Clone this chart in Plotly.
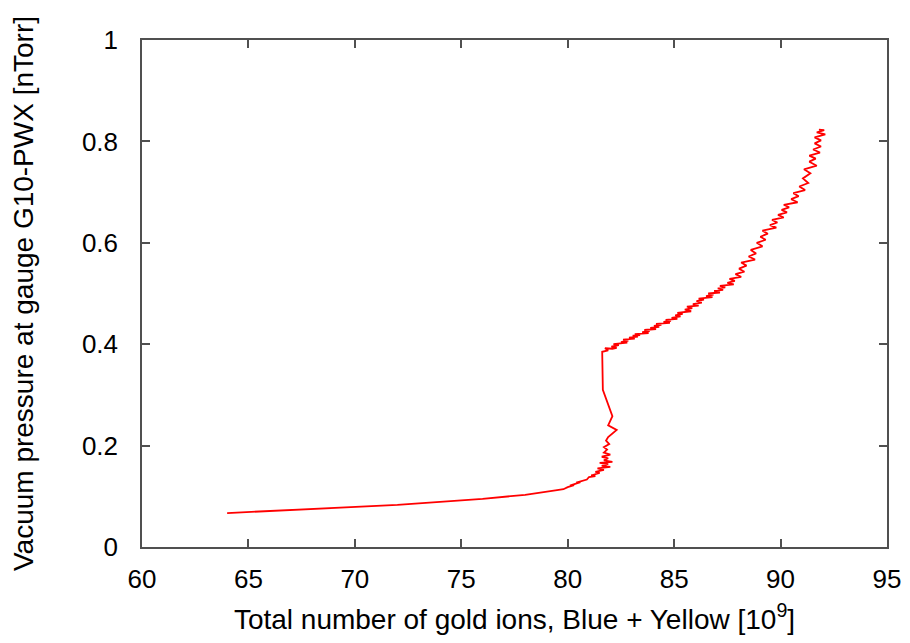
import plotly.graph_objects as go

# Smooth low-pressure part
x_low = [64.0, 66.0, 68.0, 70.0, 72.0, 74.0, 76.0, 78.0, 79.0, 79.5]
y_low = [0.067, 0.071, 0.075, 0.079, 0.083, 0.089, 0.095, 0.103, 0.108, 0.112]

# Noisy part before the jump and the jump itself
x_mid = [79.8, 80.0, 80.3, 80.1, 80.6, 80.4, 80.9, 81.0, 81.3, 81.1, 81.5, 81.3, 81.7, 81.4,
         82.0, 81.6, 81.9, 81.5, 82.1, 81.7, 81.9, 81.6, 82.0, 81.7, 81.85, 81.7, 81.95, 81.8,
         81.9, 82.3, 81.9, 82.1, 81.65, 81.62, 81.62, 81.9, 81.75, 82.1]
y_mid = [0.114, 0.118, 0.122, 0.121, 0.128, 0.127, 0.133, 0.138, 0.140, 0.141, 0.146, 0.148, 0.152, 0.155,
         0.158, 0.160, 0.164, 0.166, 0.168, 0.171, 0.175, 0.178, 0.182, 0.186, 0.192, 0.197, 0.203, 0.210,
         0.217, 0.231, 0.240, 0.258, 0.310, 0.350, 0.385, 0.388, 0.392, 0.391]

# Noisy rising part after the jump
x_high = [82.30, 82.05, 82.40, 82.15, 82.80, 82.50, 82.85, 82.60, 83.15, 82.88,
          83.30, 83.05, 83.40, 83.15, 83.80, 83.50, 83.85, 83.60, 84.15, 83.88,
          84.30, 84.05, 84.40, 84.15, 84.80, 84.50, 84.85, 84.60, 85.15, 84.88,
          85.30, 85.05, 85.40, 85.15, 85.80, 85.50, 85.85, 85.60, 86.15, 85.88,
          86.30, 86.05, 86.40, 86.15, 86.80, 86.50, 86.85, 86.60, 87.15, 86.88,
          87.30, 87.05, 87.40, 87.15, 87.80, 87.50, 87.85, 87.60, 88.15, 87.88,
          88.30, 88.05, 88.40, 88.15, 88.80, 88.50, 88.85, 88.60, 89.15, 88.88,
          89.30, 89.05, 89.40, 89.15, 89.80, 89.50, 89.85, 89.60, 90.15, 89.88,
          90.30, 90.05, 90.40, 90.15, 90.80, 90.50, 90.85, 90.60, 91.15, 90.88,
          91.30, 91.05, 91.40, 91.10, 91.70, 91.35, 91.65, 91.35, 91.85, 91.53,
          91.90, 91.60, 91.90, 91.60, 92.10, 91.70, 92.05, 91.80]
y_high = [0.393, 0.395, 0.398, 0.400, 0.403, 0.404, 0.407, 0.409, 0.411, 0.413,
          0.415, 0.417, 0.418, 0.420, 0.422, 0.424, 0.426, 0.428, 0.430, 0.432,
          0.434, 0.436, 0.438, 0.440, 0.442, 0.444, 0.446, 0.448, 0.450, 0.452,
          0.455, 0.457, 0.460, 0.462, 0.465, 0.468, 0.471, 0.474, 0.476, 0.479,
          0.482, 0.485, 0.488, 0.490, 0.493, 0.495, 0.498, 0.500, 0.502, 0.505,
          0.507, 0.510, 0.512, 0.515, 0.518, 0.521, 0.525, 0.529, 0.533, 0.538,
          0.543, 0.549, 0.555, 0.561, 0.567, 0.573, 0.579, 0.586, 0.593, 0.600,
          0.606, 0.612, 0.618, 0.624, 0.630, 0.635, 0.640, 0.645, 0.650, 0.655,
          0.660, 0.665, 0.670, 0.675, 0.680, 0.686, 0.692, 0.698, 0.704, 0.711,
          0.718, 0.727, 0.737, 0.745, 0.752, 0.760, 0.766, 0.772, 0.778, 0.784,
          0.790, 0.796, 0.802, 0.808, 0.814, 0.818, 0.822, 0.823]

x_vals = x_low + x_mid + x_high
y_vals = y_low + y_mid + y_high

x_ticks = [60, 65, 70, 75, 80, 85, 90, 95]
y_ticks = [0, 0.2, 0.4, 0.6, 0.8, 1]
y_tick_text = ["0", "0.2", "0.4", "0.6", "0.8", "1"]

font_family = "Liberation Sans, Arial, sans-serif"

fig = go.Figure()
fig.add_trace(go.Scatter(x=x_vals, y=y_vals, mode="lines",
                         line=dict(color="#ff0000", width=1.8),
                         showlegend=False))

axis_common = dict(showgrid=False, zeroline=False, showline=True, linecolor="#505050",
                   linewidth=1.5, mirror="ticks", ticks="inside", ticklen=8,
                   tickcolor="#505050", tickwidth=1.5, automargin=False,
                   tickfont=dict(family=font_family, size=26, color="black"))

fig.update_layout(
    width=894, height=627,
    margin=dict(l=134, r=15, t=32, b=88),
    paper_bgcolor="white", plot_bgcolor="white",
    xaxis=dict(range=[60, 95], tickvals=x_ticks, ticklabelstandoff=8,
               title=dict(text="Total number of gold ions, Blue + Yellow [10<sup>9</sup>]",
                          font=dict(family=font_family, size=28, color="black"), standoff=20),
               **axis_common),
    yaxis=dict(range=[0, 1], tickvals=y_ticks, ticktext=y_tick_text, ticklabelstandoff=17,
               title=dict(text="Vacuum pressure at gauge G10-PWX [nTorr]",
                          font=dict(family=font_family, size=28, color="black"), standoff=40),
               **axis_common),
)

fig.write_html("out.html")
